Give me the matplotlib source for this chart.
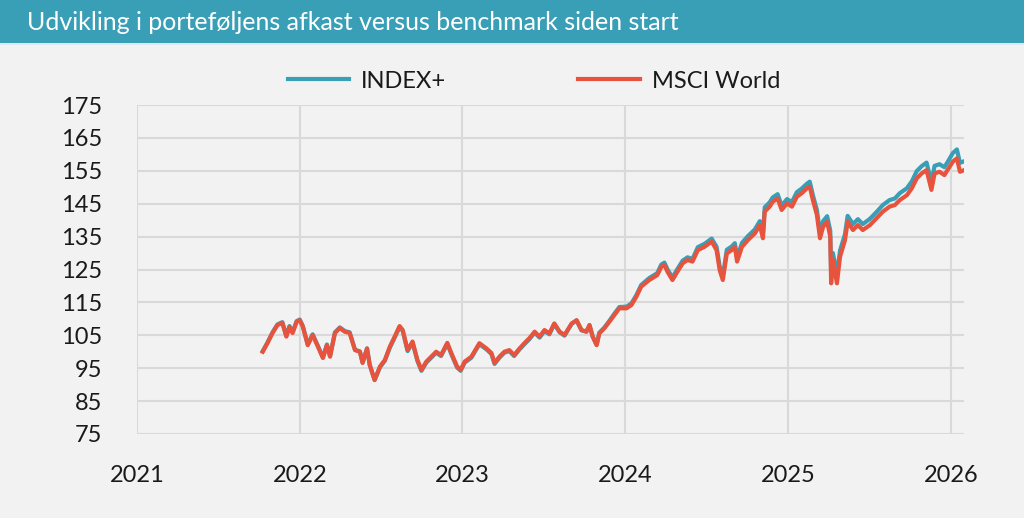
import matplotlib
matplotlib.use("Agg")
import matplotlib.pyplot as plt
from matplotlib.patches import Rectangle
from matplotlib.lines import Line2D
import pandas as pd

title = "Udvikling i porteføljens afkast versus benchmark siden start"
series_names = ["INDEX+", "MSCI World"]
year_ticks = ["2021", "2022", "2023", "2024", "2025", "2026"]
y_ticks = [75, 85, 95, 105, 115, 125, 135, 145, 155, 165, 175]

dates = [
    "2021-10-10", "2021-10-21", "2021-11-01", "2021-11-12", "2021-11-23", "2021-12-02",
    "2021-12-09", "2021-12-16", "2021-12-25", "2022-01-01", "2022-01-08", "2022-01-19",
    "2022-01-30", "2022-02-11", "2022-02-22", "2022-03-03", "2022-03-10", "2022-03-21",
    "2022-04-01", "2022-04-12", "2022-04-23", "2022-05-05", "2022-05-16", "2022-05-22",
    "2022-06-01", "2022-06-07", "2022-06-18", "2022-06-30", "2022-07-11", "2022-07-22",
    "2022-08-02", "2022-08-13", "2022-08-20", "2022-08-31", "2022-09-11", "2022-09-22",
    "2022-10-01", "2022-10-12", "2022-10-23", "2022-11-03", "2022-11-14", "2022-11-28",
    "2022-12-07", "2022-12-20", "2022-12-28", "2023-01-06", "2023-01-21", "2023-02-08",
    "2023-02-24", "2023-03-07", "2023-03-14", "2023-03-25", "2023-04-05", "2023-04-16",
    "2023-04-27", "2023-05-09", "2023-05-20", "2023-05-31", "2023-06-12", "2023-06-23",
    "2023-07-04", "2023-07-15", "2023-07-26", "2023-08-07", "2023-08-18", "2023-09-03",
    "2023-09-14", "2023-09-25", "2023-10-06", "2023-10-13", "2023-10-20", "2023-10-29",
    "2023-11-04", "2023-11-15", "2023-11-26", "2023-12-08", "2023-12-19", "2024-01-04",
    "2024-01-15", "2024-01-26", "2024-02-06", "2024-02-24", "2024-03-13", "2024-03-22",
    "2024-03-29", "2024-04-05", "2024-04-16", "2024-04-27", "2024-05-09", "2024-05-20",
    "2024-05-31", "2024-06-12", "2024-06-27", "2024-07-13", "2024-07-24", "2024-07-31",
    "2024-08-07", "2024-08-16", "2024-08-27", "2024-09-03", "2024-09-08", "2024-09-19",
    "2024-10-02", "2024-10-18", "2024-10-29", "2024-11-05", "2024-11-09", "2024-11-20",
    "2024-11-27", "2024-12-08", "2024-12-17", "2024-12-29", "2025-01-09", "2025-01-20",
    "2025-01-31", "2025-02-12", "2025-02-18", "2025-02-25", "2025-03-06", "2025-03-13",
    "2025-03-20", "2025-03-29", "2025-04-05", "2025-04-07", "2025-04-11", "2025-04-20",
    "2025-04-27", "2025-05-08", "2025-05-14", "2025-05-26", "2025-06-06", "2025-06-17",
    "2025-07-03", "2025-07-18", "2025-08-01", "2025-08-16", "2025-08-28", "2025-09-08",
    "2025-09-24", "2025-10-05", "2025-10-16", "2025-10-27", "2025-11-07", "2025-11-18",
    "2025-11-25", "2025-12-06", "2025-12-17", "2025-12-24", "2026-01-05", "2026-01-14",
    "2026-01-21", "2026-01-30",
]

msci_world = [
    100.0, 102.7, 105.7, 108.1, 108.8, 104.6, 107.6, 105.7, 109.1, 109.6, 107.6, 102.0,
    105.1, 101.5, 98.1, 102.0, 98.5, 105.7, 107.2, 106.1, 105.7, 100.5, 100.0, 96.6,
    101.0, 96.0, 91.4, 95.5, 97.5, 101.5, 104.6, 107.8, 106.6, 100.5, 103.1, 97.5,
    94.5, 97.0, 98.5, 100.0, 99.0, 102.7, 99.6, 95.5, 94.5, 97.0, 98.5, 102.6,
    101.0, 99.6, 96.6, 98.5, 100.0, 100.5, 99.0, 101.0, 102.6, 104.1, 106.1, 104.6,
    106.6, 105.6, 108.6, 106.1, 105.1, 108.6, 109.6, 106.6, 106.1, 108.1, 104.6, 102.0,
    105.6, 107.1, 109.0, 111.2, 113.2, 113.2, 114.2, 116.7, 119.8, 121.8, 123.3, 125.8,
    126.4, 124.3, 121.8, 124.3, 126.9, 127.9, 127.4, 130.9, 131.9, 133.5, 130.9, 124.8,
    121.8, 129.9, 130.9, 131.9, 127.4, 131.9, 133.9, 136.0, 138.5, 134.5, 142.6, 144.1,
    145.6, 146.6, 143.1, 145.1, 144.1, 147.1, 148.2, 149.7, 150.2, 146.1, 141.6, 134.5,
    138.0, 139.5, 135.0, 120.8, 127.9, 120.8, 128.9, 133.9, 139.5, 137.0, 138.5, 137.0,
    138.5, 140.6, 142.6, 144.1, 144.6, 146.1, 147.6, 149.7, 152.7, 154.2, 155.2, 149.2,
    154.2, 154.7, 153.7, 155.2, 157.8, 158.8, 154.7, 155.2,
]

index_plus = [
    100.2, 102.9, 105.9, 108.3, 109.0, 104.8, 107.8, 105.9, 109.3, 109.8, 107.8, 102.2,
    105.3, 101.7, 98.3, 102.2, 98.7, 105.9, 107.4, 106.3, 105.9, 100.6, 100.1, 96.7,
    101.0, 96.0, 91.4, 95.3, 97.3, 101.2, 104.3, 107.5, 106.3, 100.2, 102.8, 97.2,
    94.2, 96.7, 98.2, 99.7, 98.7, 102.4, 99.3, 95.2, 94.2, 96.7, 98.2, 102.3,
    100.7, 99.3, 96.3, 98.2, 99.7, 100.2, 98.7, 100.7, 102.3, 103.8, 105.8, 104.3,
    106.3, 105.3, 108.4, 105.9, 104.9, 108.5, 109.5, 106.5, 106.1, 108.1, 104.7, 102.1,
    105.8, 107.3, 109.3, 111.6, 113.6, 113.7, 114.7, 117.2, 120.3, 122.4, 123.9, 126.5,
    127.1, 125.0, 122.6, 125.1, 127.7, 128.7, 128.2, 131.8, 132.8, 134.4, 131.9, 125.9,
    123.0, 131.0, 132.0, 133.0, 128.6, 133.1, 135.1, 137.2, 139.7, 135.8, 143.9, 145.4,
    146.9, 147.9, 144.4, 146.4, 145.5, 148.5, 149.6, 151.1, 151.7, 147.6, 143.1, 136.2,
    139.7, 141.2, 136.8, 123.5, 130.0, 123.5, 130.8, 135.7, 141.3, 138.8, 140.3, 138.8,
    140.4, 142.5, 144.6, 146.1, 146.6, 148.2, 149.7, 151.8, 154.9, 156.4, 157.5, 151.5,
    156.5, 157.0, 156.1, 157.6, 160.4, 161.5, 157.4, 157.9,
]

TEAL = "#389fb7"
RED = "#e8533e"
BG = "#f2f2f2"
GRID = "#d9d9d9"
TXT = "#1a1a1a"

plt.rcParams["font.family"] = ["Lato", "DejaVu Sans"]

fig = plt.figure(figsize=(10.24, 5.18), dpi=100, facecolor=BG)

# title bar
fig.patches.append(Rectangle((0, 1 - 43 / 518), 1, 43 / 518, transform=fig.transFigure,
                             facecolor=TEAL, edgecolor="none", zorder=0))
fig.patches.append(Rectangle((0, 1 - 45 / 518), 1, 2 / 518, transform=fig.transFigure,
                             facecolor="#dbe9ee", edgecolor="none", zorder=0))
fig.text(27 / 1024, 1 - 22 / 518, title, color="white", fontsize=18, fontweight="normal",
         ha="left", va="center")

ax = fig.add_axes([137 / 1024, 1 - 434 / 518, (964 - 137) / 1024, (434 - 105) / 518])
ax.set_facecolor(BG)

x = pd.to_datetime(dates)
ax.plot(x, index_plus, color=TEAL, lw=3.0, solid_joinstyle="round", label=series_names[0], zorder=3)
ax.plot(x, msci_world, color=RED, lw=3.0, solid_joinstyle="round", label=series_names[1], zorder=4)

ax.set_xlim(pd.Timestamp("2021-01-01"), pd.Timestamp("2026-01-30"))
ax.set_ylim(75, 175)
ax.set_yticks(y_ticks)
ax.set_yticklabels([str(v) for v in y_ticks])
ax.set_xticks(pd.to_datetime([f"{y}-01-01" for y in year_ticks]))
ax.set_xticklabels(year_ticks)

for s in ax.spines.values():
    s.set_visible(False)
ax.grid(True, color=GRID, lw=1.5, zorder=0)
ax.set_axisbelow(True)
ax.tick_params(axis="both", length=0, labelsize=17, colors=TXT)
ax.tick_params(axis="y", pad=25)
ax.tick_params(axis="x", pad=22)

handles = [Line2D([], [], color=TEAL, lw=3), Line2D([], [], color=RED, lw=3)]
fig.legend(handles, series_names, loc="center", bbox_to_anchor=(534 / 1024, 1 - 81 / 518),
           ncol=2, frameon=False, fontsize=17, handlelength=2.6, handletextpad=0.5,
           columnspacing=5.6, labelcolor=TXT)

fig.savefig("out.png", dpi=100, facecolor=BG)
